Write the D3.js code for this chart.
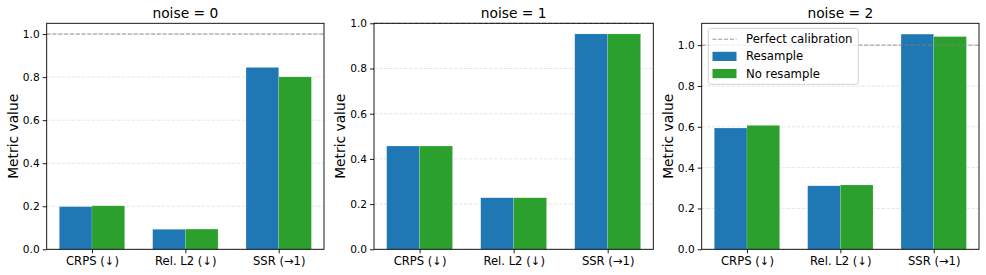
<!DOCTYPE html>
<html><head><meta charset="utf-8">
<script src="https://cdn.jsdelivr.net/npm/d3@7"></script>
<style>body{margin:0;background:#fff}svg{display:block;font-family:"DejaVu Sans",sans-serif}</style>
</head><body><svg id="c" width="986" height="275"></svg>
<script>
const categories = ["CRPS (\u2193)", "Rel. L2 (\u2193)", "SSR (\u21921)"];
const panelTitles = ["noise = 0", "noise = 1", "noise = 2"];
const resample = [
  [0.198, 0.093, 0.845],
  [0.457, 0.228, 0.953],
  [0.594, 0.311, 1.054]
];
const noResample = [
  [0.202, 0.094, 0.801],
  [0.457, 0.228, 0.953],
  [0.607, 0.315, 1.042]
];
const yLimits = [1.05, 1.0, 1.107];
const yTicks = [0, 0.2, 0.4, 0.6, 0.8, 1.0];
const refValue = 1.0;
const seriesNames = ["Resample", "No resample"];
const seriesColors = ["#1f77b4", "#2ca02c"];

(function () {
const svg = d3.select("#c");
const panels = [
  {l: 46.7, r: 324},
  {l: 374, r: 653.3},
  {l: 701.7, r: 979}
];
const plotTop = 23.3, plotBottom = 249.3;
const barW = 0.35;

panels.forEach((p, k) => {
  const g = svg.append("g");
  const x = d3.scaleLinear().domain([-0.485, 2.485]).range([p.l, p.r]);
  const y = d3.scaleLinear().domain([0, yLimits[k]]).range([plotBottom, plotTop]);

  // grid
  g.append("g").selectAll("line").data(yTicks).join("line")
    .attr("x1", p.l).attr("x2", p.r)
    .attr("y1", d => y(d)).attr("y2", d => y(d))
    .attr("stroke", "#b0b0b0").attr("stroke-opacity", 0.4)
    .attr("stroke-width", 0.8).attr("stroke-dasharray", "3.5,1.5");

  // bars
  [resample, noResample].forEach((ser, s) => {
    g.append("g").selectAll("rect").data(ser[k]).join("rect")
      .attr("x", (d, i) => x(i - barW + s * barW))
      .attr("width", x(barW) - x(0))
      .attr("y", d => y(d))
      .attr("height", d => y(0) - y(d))
      .attr("fill", seriesColors[s])
      .attr("stroke", "#fff").attr("stroke-width", 0.5).attr("stroke-opacity", 0.3);
  });

  // reference line
  if (refValue <= yLimits[k]) {
    g.append("line")
      .attr("x1", p.l).attr("x2", p.r)
      .attr("y1", y(refValue)).attr("y2", y(refValue))
      .attr("stroke", "#808080").attr("stroke-opacity", 0.85)
      .attr("stroke-width", 1).attr("stroke-dasharray", "4,1.8");
  }

  // axes
  const ya = d3.axisLeft(y).tickValues(yTicks).tickFormat(d3.format(".1f")).tickSize(4).tickPadding(3);
  const yg = g.append("g").attr("transform", `translate(${p.l},0)`).call(ya);
  const xa = d3.axisBottom(x).tickValues([0, 1, 2]).tickFormat(i => categories[i]).tickSize(4).tickPadding(3);
  const xg = g.append("g").attr("transform", `translate(0,${plotBottom})`).call(xa);
  [yg, xg].forEach(a => {
    a.select(".domain").remove();
    a.selectAll("text").attr("fill", "#000").attr("font-family", "DejaVu Sans");
    a.selectAll("line").attr("stroke", "#000").attr("stroke-width", 0.9);
  });
  yg.selectAll("text").attr("font-size", 10.6);
  xg.selectAll("text").attr("font-size", 11.6);

  // spines
  g.append("rect").attr("x", p.l).attr("y", plotTop)
    .attr("width", p.r - p.l).attr("height", plotBottom - plotTop)
    .attr("fill", "none").attr("stroke", "#000").attr("stroke-width", 0.9);

  // title
  g.append("text").attr("x", (p.l + p.r) / 2).attr("y", 18.2)
    .attr("text-anchor", "middle").attr("font-size", 13.8).text(panelTitles[k]);

  // y label
  g.append("text")
    .attr("transform", `translate(${p.l - 28.6},${(plotTop + plotBottom) / 2}) rotate(-90)`)
    .attr("text-anchor", "middle").attr("font-size", 13.8).text("Metric value");

  // legend on last panel
  if (k === 2) {
    const lg = g.append("g");
    lg.append("rect").attr("x", 708.3).attr("y", 28.3).attr("width", 150).attr("height", 56)
      .attr("rx", 2.5).attr("fill", "#fff").attr("fill-opacity", 0.8)
      .attr("stroke", "#d0d0d0").attr("stroke-width", 0.9);
    const rows = [39.2, 56.4, 73.6];
    lg.append("line").attr("x1", 712.5).attr("x2", 736.5).attr("y1", rows[0]).attr("y2", rows[0])
      .attr("stroke", "#808080").attr("stroke-opacity", 0.85).attr("stroke-dasharray", "4,1.8");
    seriesNames.forEach((n, s) => {
      lg.append("rect").attr("x", 712.5).attr("y", rows[s + 1] - 4.6).attr("width", 24).attr("height", 9.2)
        .attr("fill", seriesColors[s]);
    });
    ["Perfect calibration", ...seriesNames].forEach((t, i) => {
      lg.append("text").attr("x", 746).attr("y", rows[i]).attr("dy", "0.35em")
        .attr("font-size", 11.7).text(t);
    });
  }
});
})();
</script></body></html>
